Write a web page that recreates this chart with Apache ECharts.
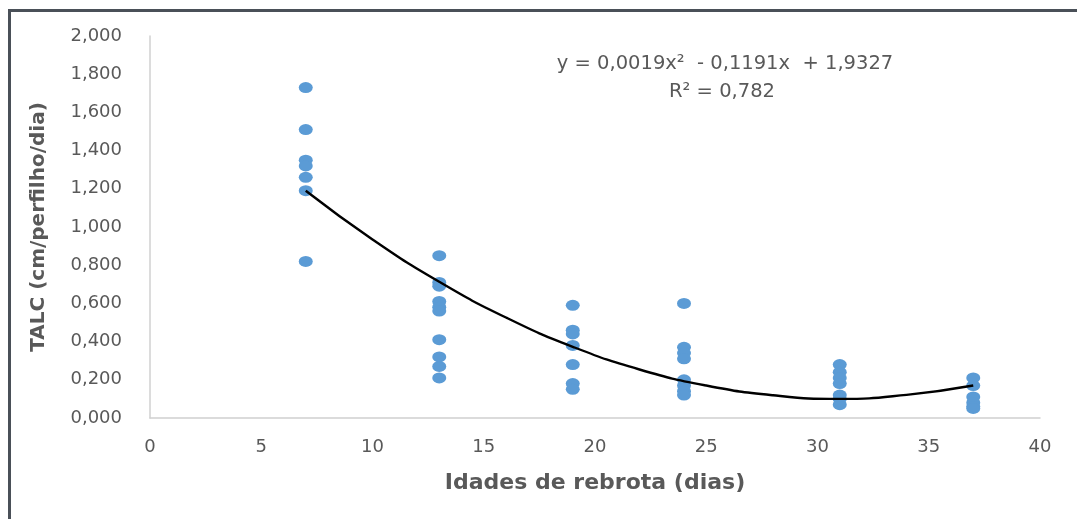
<!DOCTYPE html>
<html>
<head>
<meta charset="utf-8">
<script src="https://cdn.jsdelivr.net/npm/echarts@6/dist/echarts.min.js"></script>
<style>
  html, body { margin: 0; padding: 0; background: #fff; }
  #chart { width: 1077px; height: 519px; }
</style>
</head>
<body>
<div id="chart"></div>
<script>
// idades de rebrota (dias) e valores de TALC
const ages = [7, 13, 19, 24, 31, 37];
const talc7 = [1.73, 1.51, 1.35, 1.32, 1.26, 1.19, 0.82];
const talc13 = [0.85, 0.71, 0.69, 0.61, 0.58, 0.56, 0.41, 0.32, 0.27, 0.21];
const talc19 = [0.59, 0.46, 0.44, 0.38, 0.28, 0.18, 0.15];
const talc24 = [0.60, 0.37, 0.34, 0.31, 0.20, 0.17, 0.14, 0.12];
const talc31 = [0.28, 0.24, 0.21, 0.18, 0.12, 0.10, 0.07];
const talc37 = [0.21, 0.17, 0.11, 0.08, 0.06, 0.05];

// linha de tendência (polinomial)
const trendX = [7, 10, 13, 16, 19, 22, 25, 28, 31, 34, 37];
const trendY = [1.19, 0.935, 0.713, 0.526, 0.373, 0.254, 0.170, 0.119, 0.10, 0.121, 0.17];

const eqText = 'y = 0,0019x\u00B2  - 0,1191x  + 1,9327';
const r2Text = 'R\u00B2 = 0,782';

const groups = [talc7, talc13, talc19, talc24, talc31, talc37];
const points = [];
groups.forEach((g, i) => {
  g.forEach(v => points.push([ages[i], v]));
});
const trend = trendX.map((x, i) => [x, trendY[i]]);

const grey = '#595959';
const font = 'DejaVu Sans';
const fmt = v => v.toFixed(3).replace('.', ',');

const myChart = echarts.init(document.getElementById('chart'));
const option = {
  backgroundColor: '#fff',
  animation: false,
  grid: { left: 150, right: 37, top: 36, bottom: 101 },
  xAxis: {
    type: 'value',
    min: 0, max: 40, interval: 5,
    axisLine: { show: true, lineStyle: { color: '#d0d0d0', width: 1.5 } },
    axisTick: { show: false },
    splitLine: { show: false },
    axisLabel: { color: grey, fontFamily: font, fontSize: 18, margin: 20 },
    name: 'Idades de rebrota (dias)',
    nameLocation: 'middle',
    nameGap: 54,
    nameTextStyle: { color: grey, fontFamily: font, fontWeight: 'bold', fontSize: 22 }
  },
  yAxis: {
    type: 'value',
    min: 0, max: 2, interval: 0.2,
    axisLine: { show: true, lineStyle: { color: '#d0d0d0', width: 1.5 } },
    axisTick: { show: false },
    splitLine: { show: false },
    axisLabel: { color: grey, fontFamily: font, fontSize: 18, margin: 28, formatter: fmt },
    name: 'TALC (cm/perfilho/dia)',
    nameLocation: 'middle',
    nameGap: 101,
    nameTextStyle: { color: grey, fontFamily: font, fontWeight: 'bold', fontSize: 20 }
  },
  graphic: [
    { type: 'rect', shape: { x: 8, y: 9, width: 1069, height: 3 }, style: { fill: '#4a5058' } },
    { type: 'rect', shape: { x: 8, y: 9, width: 3, height: 510 }, style: { fill: '#4a5058' } },
    { type: 'text', x: 725, y: 64, style: { text: eqText, fill: grey, font: '19.5px "DejaVu Sans"', align: 'center', verticalAlign: 'middle' } },
    { type: 'text', x: 722, y: 92, style: { text: r2Text, fill: grey, font: '19.5px "DejaVu Sans"', align: 'center', verticalAlign: 'middle' } }
  ],
  series: [
    {
      type: 'scatter',
      data: points,
      symbol: 'circle',
      symbolSize: [14, 11],
      itemStyle: { color: '#5B9BD5', opacity: 1 }
    },
    {
      type: 'line',
      data: trend,
      smooth: true,
      showSymbol: false,
      lineStyle: { color: '#000', width: 2.4 },
      z: 3
    }
  ]
};
myChart.setOption(option);
</script>
</body>
</html>
